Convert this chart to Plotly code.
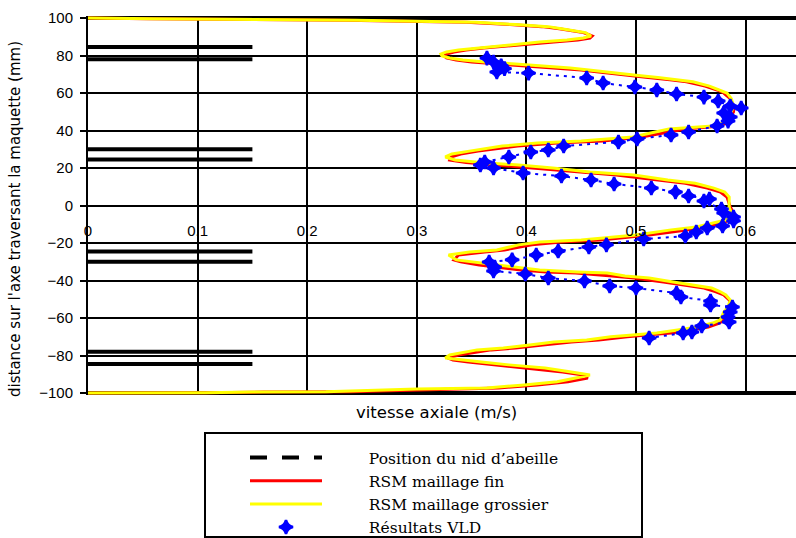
import plotly.graph_objects as go

# Distance across the model (mm), shared sampling of both RSM profiles
profile_y = [100.0, 99.6, 98.8, 97.7, 96.5, 95.4, 94.3, 93.2, 92.2, 91.1, 90.4, 89.3, 88.3, 87.2,
             86.1, 85.1, 84.0, 82.9, 81.9, 80.8, 79.7, 78.7, 77.6, 76.5, 75.5, 74.4, 73.3, 72.3,
             71.2, 69.5, 68.3, 67.0, 66.0, 63.7, 61.6, 60.0, 57.0, 53.0, 50.0, 47.0, 44.0, 42.4,
             41.8, 40.8, 36.5, 34.4, 33.3, 31.7, 29.0, 27.5, 25.9, 24.3, 22.9, 21.6, 20.0, 17.9,
             16.3, 13.6, 11.9, 9.3, 7.2, 4.5, -0.8, -4.0, -7.7, -9.3, -11.5, -13.0, -15.7, -18.4,
             -19.5, -21.0, -23.7, -24.8, -26.4, -29.0, -30.0, -31.7, -33.3, -34.4, -35.5, -36.0,
             -37.6, -38.7, -40.8, -42.4, -44.0, -46.0, -47.7, -50.4, -54.0, -57.0, -61.0, -62.7,
             -64.8, -66.4, -68.0, -69.0, -70.0, -71.7, -72.8, -74.4, -76.0, -77.0, -78.7, -79.7,
             -81.3, -82.4, -83.5, -85.0, -86.7, -88.8, -90.4, -92.0, -94.0, -95.7, -97.3, -97.9,
             -99.3, -99.5, -99.8, -100.0]

# Axial velocity (m/s), RSM fine mesh
rsm_fin_v = [0.000, 0.055, 0.235, 0.345, 0.385, 0.414, 0.430, 0.442, 0.452, 0.457, 0.460, 0.458,
             0.447, 0.425, 0.402, 0.382, 0.361, 0.345, 0.334, 0.327, 0.325, 0.327, 0.336, 0.350,
             0.374, 0.404, 0.430, 0.450, 0.466, 0.490, 0.511, 0.531, 0.546, 0.563, 0.574, 0.580,
             0.586, 0.589, 0.589, 0.586, 0.582, 0.577, 0.566, 0.545, 0.505, 0.470, 0.428, 0.392,
             0.356, 0.340, 0.331, 0.330, 0.345, 0.372, 0.408, 0.445, 0.482, 0.520, 0.545, 0.565,
             0.577, 0.583, 0.586, 0.589, 0.586, 0.579, 0.566, 0.548, 0.512, 0.468, 0.432, 0.405,
             0.380, 0.362, 0.338, 0.334, 0.340, 0.357, 0.377, 0.395, 0.418, 0.445, 0.478, 0.498,
             0.525, 0.545, 0.562, 0.573, 0.580, 0.585, 0.587, 0.584, 0.580, 0.576, 0.566, 0.550,
             0.532, 0.512, 0.492, 0.466, 0.441, 0.415, 0.390, 0.368, 0.348, 0.338, 0.328, 0.333,
             0.347, 0.370, 0.402, 0.433, 0.452, 0.456, 0.438, 0.410, 0.375, 0.330, 0.240, 0.160,
             0.107, 0.000]

# Axial velocity (m/s), RSM coarse mesh
rsm_grossier_v = [0.000, 0.060, 0.245, 0.354, 0.390, 0.420, 0.432, 0.445, 0.454, 0.457, 0.459, 0.452,
                  0.437, 0.412, 0.392, 0.372, 0.352, 0.338, 0.327, 0.322, 0.323, 0.330, 0.342, 0.362,
                  0.390, 0.418, 0.440, 0.457, 0.472, 0.500, 0.520, 0.540, 0.552, 0.567, 0.577, 0.583,
                  0.587, 0.589, 0.587, 0.583, 0.579, 0.570, 0.555, 0.530, 0.497, 0.450, 0.410, 0.378,
                  0.348, 0.332, 0.326, 0.335, 0.358, 0.393, 0.424, 0.458, 0.498, 0.529, 0.554, 0.571,
                  0.581, 0.585, 0.585, 0.587, 0.582, 0.570, 0.555, 0.532, 0.500, 0.450, 0.412, 0.393,
                  0.373, 0.348, 0.329, 0.336, 0.350, 0.371, 0.391, 0.412, 0.447, 0.474, 0.490, 0.512,
                  0.534, 0.554, 0.569, 0.577, 0.582, 0.586, 0.584, 0.580, 0.577, 0.570, 0.556, 0.538,
                  0.519, 0.497, 0.477, 0.455, 0.425, 0.403, 0.379, 0.355, 0.341, 0.330, 0.326, 0.340,
                  0.359, 0.384, 0.417, 0.441, 0.458, 0.445, 0.428, 0.398, 0.364, 0.300, 0.217, 0.150,
                  0.107, 0.000]

# LDV measurements
vld_y = [78.6, 76.5, 74.5, 73.0, 71.2, 70.6, 68.0, 65.3, 63.2, 61.6, 59.5, 57.8, 55.7, 53.0, 52.0,
         49.3, 47.2, 45.0, 42.4, 39.2, 37.6, 35.5, 33.9, 31.7, 29.6, 28.5, 25.9, 23.2, 21.6, 20.0,
         17.3, 15.7, 13.6, 11.5, 9.3, 7.2, 5.1, 3.5, 2.4, -1.9, -4.0, -6.1, -8.2, -10.9, -12.0,
         -14.1, -16.3, -17.9, -21.0, -22.1, -24.3, -26.4, -29.0, -30.1, -32.8, -34.9, -36.5, -38.7,
         -40.3, -42.9, -44.0, -46.7, -48.8, -50.9, -53.1, -54.1, -56.8, -59.5, -62.1, -64.3, -67.5,
         -68.0, -70.7]
vld_v = [0.364, 0.370, 0.377, 0.380, 0.373, 0.402, 0.455, 0.470, 0.499, 0.519, 0.537, 0.562, 0.575,
         0.586, 0.596, 0.580, 0.586, 0.584, 0.574, 0.548, 0.532, 0.501, 0.484, 0.434, 0.420, 0.404,
         0.384, 0.362, 0.358, 0.370, 0.397, 0.432, 0.459, 0.480, 0.514, 0.536, 0.548, 0.567, 0.562,
         0.578, 0.580, 0.589, 0.589, 0.579, 0.565, 0.555, 0.545, 0.507, 0.473, 0.457, 0.429, 0.409,
         0.387, 0.366, 0.371, 0.370, 0.399, 0.420, 0.453, 0.476, 0.500, 0.537, 0.541, 0.568, 0.568,
         0.588, 0.586, 0.584, 0.585, 0.560, 0.551, 0.543, 0.512]

# Honeycomb wall positions (mm) and their drawn extent along the velocity axis
nid_y = [84.5, 78.0, 30.0, 24.5, -24.5, -30.0, -78.0, -84.5]
nid_extent = [0.0, 0.15]

assert len(profile_y) == len(rsm_fin_v) == len(rsm_grossier_v)
assert len(vld_y) == len(vld_v)

W, H = 796, 538
ML, MR, MT, MB = 88, 0, 16, 143
plot_w = W - ML - MR
plot_h = H - MT - MB
y_half = plot_h / 1.875 / 2          # 20 mm every 37.5 px
x_max = plot_w / 1096.0              # 0.1 m/s every 109.6 px


def px_x(p):
    return (p - ML) / plot_w


def px_y(p):
    return (H - MB - p) / plot_h


nid_x, nid_yy = [], []
for yv in nid_y:
    nid_x += [nid_extent[0], nid_extent[1], None]
    nid_yy += [yv, yv, None]

# gap between the legend symbol and its label
GAP = "\u2003\u2003\u2002\u2009"

fig = go.Figure()

fig.add_trace(go.Scatter(x=nid_x, y=nid_yy, mode="lines", legendgroup="nid", showlegend=False,
                         line=dict(color="black", width=4), hoverinfo="skip"))
fig.add_trace(go.Scatter(x=[None], y=[None], mode="lines", legendgroup="nid",
                         name=GAP + "Position du nid d\u2019abeille",
                         line=dict(color="black", width=4, dash="17px,15px")))
fig.add_trace(go.Scatter(x=rsm_fin_v, y=profile_y, mode="lines", name=GAP + "RSM maillage fin",
                         line=dict(color="#ff0000", width=3)))
fig.add_trace(go.Scatter(x=rsm_grossier_v, y=profile_y, mode="lines",
                         name=GAP + "RSM maillage grossier",
                         line=dict(color="#ffff00", width=3)))
fig.add_trace(go.Scatter(x=vld_v, y=vld_y, mode="lines", showlegend=False, legendgroup="vld",
                         line=dict(color="#0000ff", width=2, dash="3px,5px"), hoverinfo="skip"))
fig.add_trace(go.Scatter(x=vld_v, y=vld_y, mode="markers", name=GAP + "R\u00e9sultats VLD",
                         legendgroup="vld",
                         marker=dict(symbol="star-diamond", size=10, color="#0000ff",
                                     line=dict(width=2.5, color="#0000ff"))))

tick_font = dict(family="Liberation Sans, Arial, sans-serif", size=15, color="black")
title_font = dict(family="DejaVu Sans, sans-serif", size=15, color="black")

# Thick frame lines at the walls
for yw in (100, -100):
    fig.add_shape(type="line", xref="paper", yref="y", x0=0, x1=1, y0=yw, y1=yw,
                  line=dict(color="black", width=4), layer="below")

# Legend frame
fig.add_shape(type="rect", xref="paper", yref="paper",
              x0=px_x(205), x1=px_x(642), y0=px_y(537), y1=px_y(433),
              line=dict(color="black", width=2), fillcolor="rgba(0,0,0,0)")

fig.add_annotation(text="vitesse axiale (m/s)", xref="paper", yref="paper",
                   x=px_x(436), y=px_y(412), showarrow=False,
                   font=dict(family="DejaVu Sans, sans-serif", size=16.5, color="black"),
                   xanchor="center", yanchor="middle")
fig.add_annotation(text="distance sur l'axe traversant la maquette (mm)", xref="paper", yref="paper",
                   x=px_x(15), y=px_y(219), showarrow=False, font=title_font, textangle=-90,
                   xanchor="center", yanchor="middle")

fig.update_layout(
    width=W, height=H,
    margin=dict(l=ML, r=MR, t=MT, b=MB, pad=0, autoexpand=False),
    paper_bgcolor="white", plot_bgcolor="white",
    showlegend=True,
    legend=dict(xref="container", yref="container", x=245 / W, y=1 - 441 / H,
                xanchor="left", yanchor="top", bgcolor="rgba(0,0,0,0)", borderwidth=0,
                font=dict(family="DejaVu Serif, serif", size=15.5, color="black"),
                itemwidth=72, tracegroupgap=0, traceorder="normal"),
    xaxis=dict(range=[0, x_max], dtick=0.1, tick0=0, showgrid=True, gridcolor="black", gridwidth=2,
               zeroline=False, showline=False, anchor="free", position=0.5, side="bottom",
               ticks="", ticklabelstandoff=14, tickfont=tick_font, fixedrange=True),
    yaxis=dict(range=[-y_half, y_half], dtick=20, tick0=0, showgrid=True, gridcolor="black",
               gridwidth=2, zeroline=True, zerolinecolor="black", zerolinewidth=2,
               showline=True, linecolor="black", linewidth=2, ticks="outside", ticklen=6,
               tickwidth=2, tickcolor="black", ticklabelstandoff=4, tickfont=tick_font,
               fixedrange=True),
)

fig.write_html("out.html")
